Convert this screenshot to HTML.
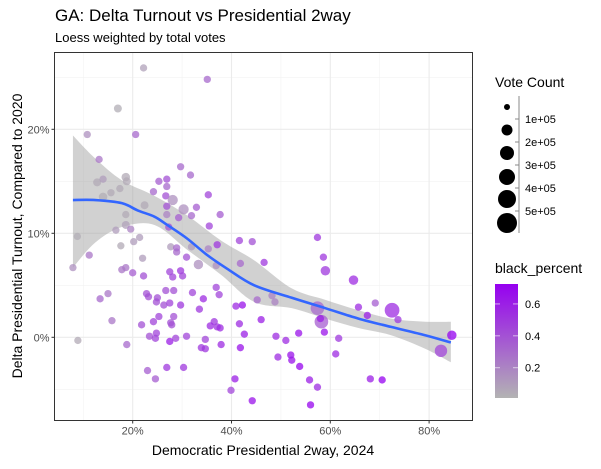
<!DOCTYPE html>
<html><head><meta charset="utf-8"><style>
body{margin:0;background:#fff;}
svg text{font-family:"Liberation Sans",Arial,sans-serif;}
</style></head><body>
<svg width="601" height="464" viewBox="0 0 601 464" xmlns="http://www.w3.org/2000/svg">
<rect width="601" height="464" fill="#fff"/>
<text x="55" y="21" font-size="17" fill="#000">GA: Delta Turnout vs Presidential 2way</text>
<text x="55" y="42" font-size="13" fill="#000">Loess weighted by total votes</text>
<g id="grid"></g>
<g id="band"></g>
<g id="pts"></g>
<g id="line"></g>
<rect x="54.5" y="52.5" width="418" height="368" fill="none" stroke="#333" stroke-width="1"/>
<g id="axes"></g>
<text x="263" y="455" font-size="14" text-anchor="middle" fill="#000">Democratic Presidential 2way, 2024</text>
<text transform="translate(22,236) rotate(-90)" font-size="14" text-anchor="middle" fill="#000">Delta Presidential Turnout, Compared to 2020</text>
<g id="legend"></g>
</svg>
<script>
const xTicks=[20,40,60,80];
const xMinor=[10,30,50,70];
const yTicks=[0,10,20];
const yMinor=[-5,5,15,25];
// [dem2way %, delta turnout %, votes, black_percent]
const pts=[
[22.2,25.9,20000,0.08],[35.1,24.8,20000,0.3],[17.0,22.0,30000,0.03],[10.8,19.5,20000,0.15],[20.6,19.5,20000,0.3],
[13.2,17.1,20000,0.25],[29.7,16.4,20000,0.3],[31.7,15.6,20000,0.3],[12.8,14.9,30000,0.05],[14.0,15.2,20000,0.1],
[18.6,15.4,40000,0.05],[18.8,15.0,30000,0.05],[25.3,15.0,20000,0.35],[26.9,15.2,20000,0.4],[26.9,14.5,20000,0.3],
[24.2,14.0,20000,0.3],[15.6,13.9,20000,0.05],[17.4,14.3,20000,0.05],[35.3,13.7,20000,0.45],[14.0,13.5,40000,0.03],
[26.7,13.6,20000,0.4],[28.1,13.2,80000,0.15],[30.3,12.3,80000,0.15],[32.9,12.5,20000,0.35],[22.4,12.7,30000,0.05],
[26.9,12.6,20000,0.4],[37.7,11.8,20000,0.35],[26.9,11.8,20000,0.2],[29.3,11.5,20000,0.35],[31.9,11.7,20000,0.3],
[18.6,11.8,20000,0.05],[18.6,10.8,30000,0.08],[35.5,10.7,20000,0.45],[27.3,10.6,20000,0.4],[16.6,10.3,20000,0.1],
[19.6,10.4,20000,0.2],[8.8,9.7,20000,0.03],[21.4,9.6,20000,0.1],[41.6,9.3,20000,0.45],[44.2,9.2,20000,0.4],
[20.2,9.2,20000,0.1],[17.6,8.8,20000,0.05],[27.7,8.7,20000,0.1],[28.9,8.6,20000,0.3],[28.9,8.2,20000,0.3],
[31.9,8.7,20000,0.1],[35.3,8.5,20000,0.2],[37.1,8.9,20000,0.5],[11.2,7.9,20000,0.25],[30.9,7.7,20000,0.4],
[33.3,7.0,60000,0.15],[22.0,7.6,20000,0.1],[41.8,7.1,20000,0.3],[36.9,6.9,20000,0.15],[7.9,6.7,20000,0.15],
[18.6,6.7,20000,0.25],[17.8,6.5,20000,0.25],[20.0,6.2,20000,0.35],[22.2,5.9,20000,0.4],[27.5,6.3,20000,0.45],
[29.7,6.4,20000,0.5],[30.1,5.9,20000,0.45],[28.1,5.8,20000,0.45],[46.6,7.2,20000,0.5],[36.9,4.8,20000,0.45],
[37.5,4.1,20000,0.45],[45.2,3.6,20000,0.3],[22.8,4.2,20000,0.4],[23.2,3.9,20000,0.4],[25.0,3.8,20000,0.4],
[26.7,4.5,20000,0.4],[28.3,4.5,20000,0.4],[32.1,4.3,20000,0.45],[34.3,3.7,20000,0.55],[15.0,4.2,20000,0.25],
[13.4,3.7,20000,0.3],[24.8,3.4,20000,0.4],[26.3,3.1,20000,0.4],[27.5,3.3,20000,0.45],[29.7,3.1,20000,0.5],
[33.5,2.7,20000,0.5],[40.9,3.0,20000,0.55],[42.2,3.1,20000,0.65],[25.3,2.0,20000,0.45],[28.3,2.0,20000,0.4],
[24.2,1.5,20000,0.45],[27.7,1.4,20000,0.4],[27.9,1.2,20000,0.4],[15.8,1.6,20000,0.25],[21.8,1.2,20000,0.4],
[36.5,1.5,20000,0.5],[35.7,1.1,20000,0.55],[37.1,1.0,20000,0.5],[37.7,0.9,20000,0.55],[41.6,1.3,20000,0.55],
[46.0,1.7,20000,0.6],[23.4,0.1,20000,0.4],[24.8,0.4,20000,0.45],[24.6,-0.1,20000,0.45],[28.7,-0.1,20000,0.45],
[27.5,-0.4,20000,0.6],[30.9,0.1,20000,0.45],[34.7,-0.2,20000,0.45],[42.6,0.3,20000,0.6],[8.9,-0.3,20000,0.05],
[18.8,-0.7,20000,0.3],[33.9,-1.0,20000,0.5],[34.7,-1.1,20000,0.5],[37.9,-0.7,20000,0.55],[41.8,-1.0,20000,0.65],
[23.0,-3.2,20000,0.35],[24.6,-4.0,20000,0.35],[26.9,-2.9,20000,0.5],[30.3,-2.9,20000,0.5],[40.7,-4.0,20000,0.6],
[39.9,-5.1,20000,0.45],[44.2,-6.1,20000,0.65],
[57.4,9.6,20000,0.5],[58.6,7.7,20000,0.5],[59.0,6.4,60000,0.5],[64.7,5.5,60000,0.55],[48.2,4.0,20000,0.2],
[48.8,3.4,20000,0.2],[57.4,2.8,200000,0.3],[58.2,1.5,200000,0.35],[58.0,1.8,20000,0.6],[65.7,2.9,20000,0.55],
[69.1,3.3,20000,0.35],[67.5,2.1,20000,0.6],[72.5,2.6,250000,0.55],[73.7,1.7,20000,0.5],[58.8,0.5,20000,0.65],
[53.6,0.4,20000,0.65],[49.0,0.1,20000,0.55],[51.0,-0.3,20000,0.55],[61.7,-0.1,20000,0.5],[84.6,0.2,60000,0.72],
[82.4,-1.3,150000,0.45],[49.4,-1.9,20000,0.55],[52.0,-1.7,20000,0.65],[52.2,-2.2,20000,0.65],[53.8,-2.8,20000,0.7],
[61.1,-1.6,20000,0.55],[55.8,-4.1,20000,0.6],[57.4,-4.8,20000,0.55],[56.0,-6.5,20000,0.7],[68.1,-4.0,20000,0.6],
[70.5,-4.1,20000,0.72]
];
const fitX=[7.9,12.4,17.8,21,24.4,27,31,35.1,39.1,44.6,52.2,59,65.7,72.3,79.2,84.4];
const fitY=[13.2,13.2,12.9,12.2,11.6,10.8,9.5,7.9,6.6,5.0,3.8,2.8,1.8,1.0,0.2,-0.5];
const bandX=[7.9,12.4,17.8,24.4,31.1,37.9,44.6,52.2,59.0,65.7,72.3,79.2,84.4];
const bandHi=[19.4,17.2,15.1,13.6,11.7,9.3,7.4,4.7,3.6,2.6,1.8,1.5,1.5];
const bandLo=[6.7,9.1,10.6,10.8,8.4,6.0,3.4,2.8,1.8,0.9,0.2,-1.1,-2.4];
const sizeLabels=["1e+05","2e+05","3e+05","4e+05","5e+05"];
const colorLabels=["0.6","0.4","0.2"];
const colorVals=[0.6,0.4,0.2];

const NS="http://www.w3.org/2000/svg";
const X0=54.5,X1=472.5,Y0=52.5,Y1=420.5;
const xs=v=>33.9+4.94*v;
const ys=v=>337.3-10.4*v;
const rs=v=>2.2+8*Math.sqrt(v/600000);
const lo=[179,179,179],hi=[150,0,240];
function col(b){const t=Math.max(0,Math.min(1,(b-0.01)/(0.725-0.01)));return 'rgb('+lo.map((c,i)=>Math.round(c+(hi[i]-c)*t)).join(',')+')';}
function mk(tag,attrs,parent){const e=document.createElementNS(NS,tag);for(const k in attrs)e.setAttribute(k,attrs[k]);parent.appendChild(e);return e;}
function curve(P,start){let s=start?('M'+P[0][0]+','+P[0][1]):('L'+P[0][0]+','+P[0][1]);
for(let i=0;i<P.length-1;i++){const p0=P[i-1]||P[i],p1=P[i],p2=P[i+1],p3=P[i+2]||P[i+1];
s+='C'+(p1[0]+(p2[0]-p0[0])/6)+','+(p1[1]+(p2[1]-p0[1])/6)+' '+(p2[0]-(p3[0]-p1[0])/6)+','+(p2[1]-(p3[1]-p1[1])/6)+' '+p2[0]+','+p2[1];}
return s;}
const grid=document.getElementById('grid');
mk('rect',{x:X0,y:Y0,width:X1-X0,height:Y1-Y0,fill:'#fff'},grid);
xMinor.forEach(v=>{const l=mk('line',{x1:xs(v),x2:xs(v),y1:Y0,y2:Y1,stroke:'#f2f2f2','stroke-width':0.6},grid);});
yMinor.forEach(v=>{const l=mk('line',{x1:X0,x2:X1,y1:ys(v),y2:ys(v),stroke:'#f2f2f2','stroke-width':0.6},grid);});
xTicks.forEach(v=>{const l=mk('line',{x1:xs(v),x2:xs(v),y1:Y0,y2:Y1,stroke:'#ebebeb','stroke-width':1.1},grid);});
yTicks.forEach(v=>{const l=mk('line',{x1:X0,x2:X1,y1:ys(v),y2:ys(v),stroke:'#ebebeb','stroke-width':1.1},grid);});
// band
const up=bandX.map((x,i)=>[xs(x),ys(bandHi[i])]);
const dn=bandX.map((x,i)=>[xs(x),ys(bandLo[i])]).reverse();
const band=mk('path',{d:curve(up,true)+curve(dn,false)+'Z',fill:'#999','fill-opacity':0.45},document.getElementById('band'));


// points
const pg=document.getElementById('pts');
pts.forEach(p=>{const c=mk('circle',{cx:xs(p[0]),cy:ys(p[1]),r:rs(p[2]),fill:col(p[3]),'fill-opacity':0.75},pg);

});
// line
const ln=mk('path',{d:curve(fitX.map((x,i)=>[xs(x),ys(fitY[i])]),true),fill:'none',stroke:'#3366FF','stroke-width':2.6,'stroke-linejoin':'round'},document.getElementById('line'));


// axes
const ax=document.getElementById('axes');
xTicks.forEach(v=>{mk('line',{x1:xs(v),x2:xs(v),y1:Y1,y2:Y1+3,stroke:'#333'},ax);
const t=mk('text',{x:xs(v),y:Y1+14,'font-size':11,'text-anchor':'middle',fill:'#4d4d4d'},ax);t.textContent=v+'%';

});
yTicks.forEach(v=>{mk('line',{x1:X0-3,x2:X0,y1:ys(v),y2:ys(v),stroke:'#333'},ax);
const t=mk('text',{x:X0-5,y:ys(v)+4,'font-size':11,'text-anchor':'end',fill:'#4d4d4d'},ax);t.textContent=v+'%';

});
// legend
const lg=document.getElementById('legend');
let t=mk('text',{x:495,y:87,'font-size':14,fill:'#000'},lg);t.textContent='Vote Count';


const lr=[3,5.5,7,8,9,10],ly=[107,130,153,177,199,223];
lr.forEach((r,i)=>{const c=mk('circle',{cx:507,cy:ly[i],r:r,fill:'#000'},lg);

});
mk('line',{x1:519,x2:519,y1:96,y2:233,stroke:'#888','stroke-width':1},lg);
sizeLabels.forEach((s,i)=>{const yy=119+i*23;mk('line',{x1:515,x2:519,y1:yy,y2:yy,stroke:'#888'},lg);
const tt=mk('text',{x:525,y:yy+4,'font-size':11,fill:'#000'},lg);tt.textContent=s;

});
t=mk('text',{x:495,y:273,'font-size':14,fill:'#000'},lg);t.textContent='black_percent';


const defs=mk('defs',{},lg);const gr=mk('linearGradient',{id:'cg',x1:0,y1:1,x2:0,y2:0},defs);
mk('stop',{offset:0,'stop-color':col(0.01)},gr);mk('stop',{offset:1,'stop-color':col(0.725)},gr);
const cb=mk('rect',{x:495,y:284,width:23,height:114,fill:'url(#cg)'},lg);


const cy=v=>398-(v-0.01)/(0.715)*114;
colorVals.forEach((v,i)=>{mk('line',{x1:495,x2:500,y1:cy(v),y2:cy(v),stroke:'#fff','stroke-opacity':0.6},lg);
mk('line',{x1:513,x2:518,y1:cy(v),y2:cy(v),stroke:'#fff','stroke-opacity':0.6},lg);
const tt=mk('text',{x:525,y:cy(v)+4,'font-size':11,fill:'#000'},lg);tt.textContent=colorLabels[i];

});
</script>
</body></html>
